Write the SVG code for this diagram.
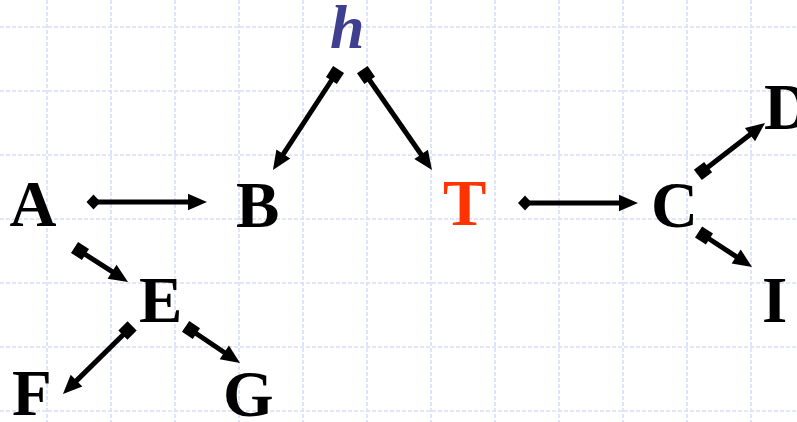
<svg xmlns="http://www.w3.org/2000/svg" width="797" height="422" viewBox="0 0 797 422">
<style>
.grid line{stroke:#d8e0f8;stroke-width:1.6;stroke-dasharray:4 2}
.lbl{font-family:"Liberation Serif","Times New Roman",serif;font-weight:bold;font-size:65px;fill:#000}
.conn path{fill:none;stroke:#000;stroke-width:5}
</style>
<defs>
<marker id="head" markerUnits="userSpaceOnUse" viewBox="-1 -10 20 20" markerWidth="20" markerHeight="20" refX="0" refY="0" orient="auto" overflow="visible">
<path d="M-1,-8.3 L18,0 L-1,8.3 z" fill="#000"/>
</marker>
<marker id="sq" markerUnits="userSpaceOnUse" viewBox="-8 -8 16 16" markerWidth="16" markerHeight="16" refX="0" refY="0" orient="auto" overflow="visible">
<rect x="-6.5" y="-6.5" width="13" height="13" fill="#000"/>
</marker>
<marker id="dia" markerUnits="userSpaceOnUse" viewBox="-9 -9 18 18" markerWidth="18" markerHeight="18" refX="0" refY="0" orient="auto" overflow="visible">
<path d="M-7,0 L0,-7.5 L7,0 L0,7.5 z" fill="#000"/>
</marker>
</defs>
<rect width="797" height="422" fill="#fff"/>
<g class="grid">
<line x1="47" y1="0" x2="47" y2="422"/>
<line x1="111" y1="0" x2="111" y2="422"/>
<line x1="175" y1="0" x2="175" y2="422"/>
<line x1="239" y1="0" x2="239" y2="422"/>
<line x1="303" y1="0" x2="303" y2="422"/>
<line x1="367" y1="0" x2="367" y2="422"/>
<line x1="431" y1="0" x2="431" y2="422"/>
<line x1="495" y1="0" x2="495" y2="422"/>
<line x1="559" y1="0" x2="559" y2="422"/>
<line x1="623" y1="0" x2="623" y2="422"/>
<line x1="687" y1="0" x2="687" y2="422"/>
<line x1="751" y1="0" x2="751" y2="422"/>
<line x1="0" y1="27" x2="797" y2="27"/>
<line x1="0" y1="91" x2="797" y2="91"/>
<line x1="0" y1="155" x2="797" y2="155"/>
<line x1="0" y1="219" x2="797" y2="219"/>
<line x1="0" y1="283" x2="797" y2="283"/>
<line x1="0" y1="347" x2="797" y2="347"/>
<line x1="0" y1="411" x2="797" y2="411"/>
</g>
<g class="conn">
<path d="M93.5,202 L189,202" marker-start="url(#dia)" marker-end="url(#head)"/>
<path d="M525,203 L620,203" marker-start="url(#dia)" marker-end="url(#head)"/>
<path d="M335,75 L282.8,154.9" marker-start="url(#sq)" marker-end="url(#head)"/>
<path d="M366,75 L421.7,155.2" marker-start="url(#sq)" marker-end="url(#head)"/>
<path d="M80,251 L112.9,272.2" marker-start="url(#sq)" marker-end="url(#head)"/>
<path d="M127.5,330.5 L75.8,381.4" marker-start="url(#sq)" marker-end="url(#head)"/>
<path d="M191,330 L225.1,353" marker-start="url(#sq)" marker-end="url(#head)"/>
<path d="M703,171 L750.8,134" marker-start="url(#sq)" marker-end="url(#head)"/>
<path d="M704,235.5 L737,257.1" marker-start="url(#sq)" marker-end="url(#head)"/>
</g>
<g id="node-h"><text class="lbl" x="330" y="48" style="font-style:italic;font-size:62px;fill:#3f3f8f">h</text></g>
<g id="node-A"><text class="lbl" x="9.5" y="226">A</text></g>
<g id="node-B"><text class="lbl" x="236" y="227">B</text></g>
<g id="node-T"><text class="lbl" x="443" y="225" style="fill:#ff3300">T</text></g>
<g id="node-C"><text class="lbl" x="651" y="227">C</text></g>
<g id="node-D"><text class="lbl" x="764" y="129">D</text></g>
<g id="node-I"><text class="lbl" x="762" y="322">I</text></g>
<g id="node-E"><text class="lbl" x="139" y="322">E</text></g>
<g id="node-F"><text class="lbl" x="12" y="415">F</text></g>
<g id="node-G"><text class="lbl" x="223" y="416">G</text></g>
</svg>
